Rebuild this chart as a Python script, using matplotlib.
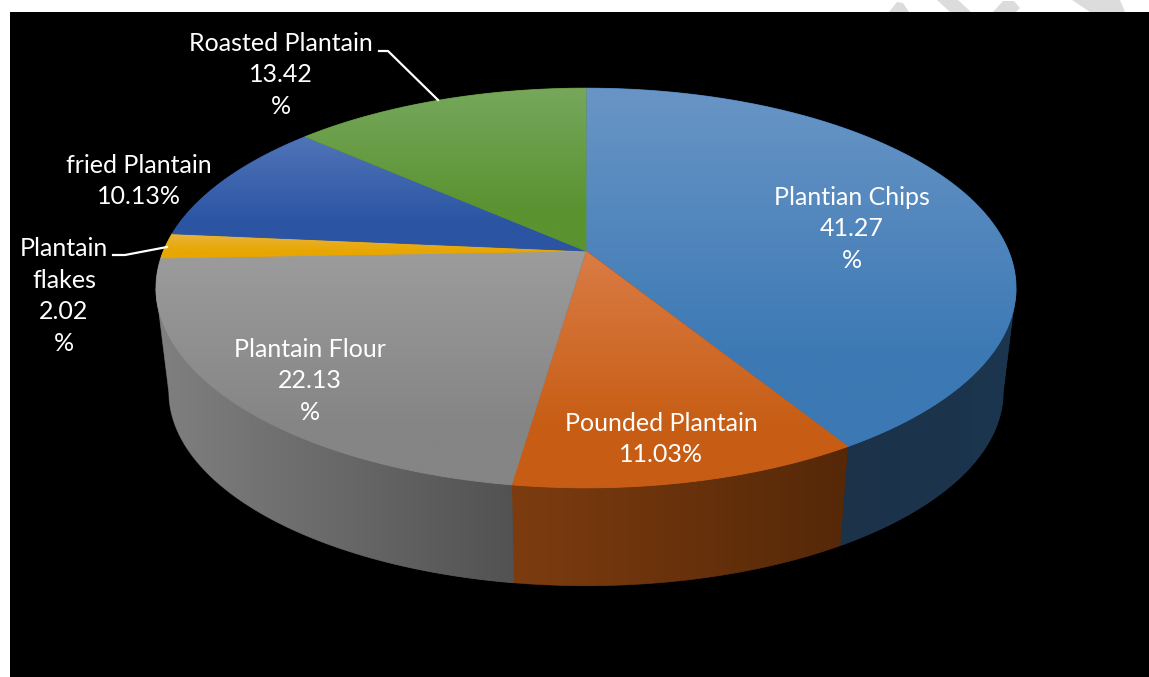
import numpy as np
import matplotlib
matplotlib.use("Agg")
import matplotlib.pyplot as plt
from matplotlib.patches import Polygon
from matplotlib.colors import to_rgb

labels = ["Plantian Chips\n41.27\n%", "Pounded Plantain\n11.03%", "Plantain Flour\n22.13\n%",
          "Plantain\nflakes\n2.02\n%", "fried Plantain\n10.13%", "Roasted Plantain\n13.42\n%"]
values = [41.27, 11.03, 22.13, 2.02, 10.13, 13.42]
top_light = ["#6995c6", "#da7c45", "#9c9c9c", "#e8b43c", "#5174b8", "#76a75c"]
top_dark = ["#3c79b4", "#c75d14", "#858585", "#e8a600", "#2b55a3", "#5a9330"]
side_left = ["#1b3249", "#7d3c10", "#808080", "#8a6a10", "#1a3366", "#375a20"]
side_right = ["#1c364f", "#552808", "#525252", "#8a6a10", "#1a3366", "#375a20"]
label_pos = [(852, 229), (661, 439), (310, 381), (64, 296), (139, 181), (281, 75)]

# pie geometry, pixels
cx, cy = 586, 251
A, B, k = 422.6, 193, 0.185
depth_y, depth_s = 105, 0.97

def project(theta, s=1.0, dy=0.0):
    X, Y = np.sin(theta), np.cos(theta)
    w = 1 + k * Y
    return cx + s * A * X / w, cy + dy - s * B * Y / w

fig = plt.figure(figsize=(11.49, 6.77), dpi=100, facecolor="white")
ax = fig.add_axes([0, 0, 1, 1])
ax.axis("off")

# faded watermark pieces above the black panel
for pts in [[(889, 12), (897, 2), (903, 3), (909, 12)],
            [(937, 0), (958, 0), (971, 12), (950, 12)],
            [(993, 12), (1003, 1), (1014, 1), (1020, 8), (1016, 12)],
            [(1072, 0), (1120, 0), (1125, 12), (1090, 12)]]:
    ax.add_patch(Polygon(pts, closed=True, fc="#dcdcdc", ec="none", zorder=1))

ax.add_patch(plt.Rectangle((10, 12), 1139, 665, fc="black", ec="none", zorder=2))

edges = np.radians(np.concatenate([[0], np.cumsum(values)]) * 3.6)

def gradient_fill(poly, c1, c2, extent, horizontal, zorder):
    # poly is the clip shape, colour runs c1 -> c2 left to right or top to bottom
    c1, c2 = np.array(to_rgb(c1)), np.array(to_rgb(c2))
    f = np.linspace(0, 1, 256)
    if horizontal:
        grad = (c1 + (c2 - c1) * f[:, None])[None, :, :]
    else:
        f = np.clip(f / 0.75, 0, 1)
        grad = (c1 + (c2 - c1) * f[:, None])[:, None, :]
    im = ax.imshow(grad, extent=extent, aspect="auto", zorder=zorder, interpolation="bilinear")
    im.set_clip_path(poly)

# side wall only between the two tangent points of the rim
for i in range(len(values)):
    ts = np.linspace(edges[i], edges[i + 1], 200)
    ts = ts[np.cos(ts) < -k]
    if len(ts) < 2:
        continue
    xt, yt = project(ts)
    xb, yb = project(ts, depth_s, depth_y)
    pts = np.vstack([np.column_stack([xt, yt]), np.column_stack([xb, yb])[::-1]])
    ax.add_patch(Polygon(pts, closed=True, fc=side_right[i], ec=side_right[i], lw=0.6, zorder=3))
    clip = Polygon(pts, closed=True, fc="none", ec="none")
    ax.add_patch(clip)
    gradient_fill(clip, side_left[i], side_right[i],
                  (pts[:, 0].min(), pts[:, 0].max(), pts[:, 1].max(), pts[:, 1].min()), True, 3)

# top face, each slice a vertical gradient clipped to the wedge
for i in range(len(values)):
    ts = np.linspace(edges[i], edges[i + 1], 200)
    xs, ys = project(ts)
    pts = np.vstack([[cx, cy], np.column_stack([xs, ys])])
    ax.add_patch(Polygon(pts, closed=True, fc=top_dark[i], ec=top_dark[i], lw=0.6, zorder=4))
    clip = Polygon(pts, closed=True, fc="none", ec="none")
    ax.add_patch(clip)
    gradient_fill(clip, top_light[i], top_dark[i],
                  (pts[:, 0].min(), pts[:, 0].max(), pts[:, 1].max(), pts[:, 1].min()), False, 4)

ax.set_xlim(0, 1149)
ax.set_ylim(677, 0)

# leader lines
ax.plot([379, 388, 438], [51, 51, 100], color="white", lw=1.6, zorder=5)
ax.plot([113, 125, 167], [255, 255, 247], color="white", lw=1.6, zorder=5)

for lab, (x, y) in zip(labels, label_pos):
    ax.text(x, y, lab, color="white", fontsize=18, family="Lato", ha="center",
            va="center", linespacing=1.45, zorder=6)

fig.savefig("out.png", dpi=100, facecolor="white")
